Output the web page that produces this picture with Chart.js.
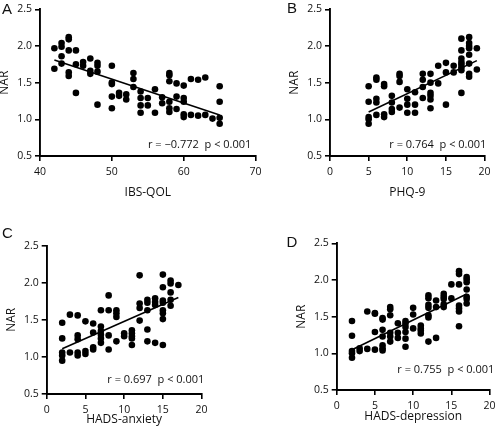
<!DOCTYPE html>
<html>
<head>
<meta charset="utf-8">
<script src="https://cdn.jsdelivr.net/npm/chart.js@4.4.1/dist/chart.umd.min.js"></script>
<style>
  html, body { margin: 0; padding: 0; background: #fff; }
  #wrap { position: relative; width: 500px; height: 437px; overflow: hidden; }
  canvas { position: absolute; }
</style>
</head>
<body>
<div id="wrap">
  <canvas id="chartA" width="266" height="202" style="left:0px;top:0px"></canvas>
  <canvas id="chartB" width="215" height="202" style="left:280px;top:0px"></canvas>
  <canvas id="chartC" width="212" height="206" style="left:0px;top:222px"></canvas>
  <canvas id="chartD" width="220" height="204" style="left:280px;top:222px"></canvas>
</div>
<script>
// NAR values, grouped by the x score they sit on
const ibsQolX = [42, 43, 44, 45, 46, 47, 48, 50, 51, 52, 53, 54, 55, 56, 57, 58, 59, 60, 61, 62, 63, 64, 65];
const ibsQolNar = [
  [1.97, 1.69], [2.04, 1.99, 1.86, 1.76], [2.12, 2.09, 1.94, 1.64, 1.59], [1.94, 1.75, 1.36],
  [1.78, 1.73], [1.83, 1.66, 1.62], [1.77, 1.73, 1.65, 1.20], [1.73, 1.50, 1.48, 1.31, 1.15],
  [1.36, 1.32], [1.34, 1.27], [1.63, 1.55, 1.44], [1.38, 1.29, 1.19, 1.09], [1.29, 1.19],
  [1.41, 1.09], [1.30, 1.22], [1.63, 1.60, 1.52, 1.24, 1.15, 1.10], [1.49, 1.31, 1.14],
  [1.46, 1.29, 1.24, 1.07, 1.03], [1.55, 1.06], [1.54, 1.05], [1.57, 1.06], [1.01],
  [1.45, 1.24, 1.02, 0.94]
];
const ibsQolFitX = [42, 65];
const ibsQolFitY = [1.81, 1.06];

const phq9X = [5, 6, 7, 8, 9, 10, 11, 12, 13, 14, 15, 16, 17, 18, 19];
const phq9Nar = [
  [1.45, 1.24, 1.03, 1.00, 0.94], [1.57, 1.54, 1.28, 1.23, 1.06], [1.48, 1.45, 1.07, 1.03],
  [1.32, 1.23, 1.14, 1.10], [1.62, 1.59, 1.51, 1.16], [1.41, 1.28, 1.20, 1.09], [1.37, 1.20, 1.09],
  [1.62, 1.54, 1.44, 1.29], [1.62, 1.50, 1.36, 1.32, 1.27, 1.15], [1.73, 1.49], [1.77, 1.64, 1.20],
  [1.73, 1.64], [2.10, 1.94, 1.83, 1.78, 1.75, 1.71, 1.67, 1.36],
  [2.12, 2.04, 2.00, 1.97, 1.88, 1.76, 1.62, 1.58], [1.97, 1.68]
];
const phq9FitX = [5, 19];
const phq9FitY = [1.10, 1.80];

const anxietyX = [2, 3, 4, 5, 6, 7, 8, 9, 10, 11, 12, 13, 14, 15, 16, 17];
const anxietyNar = [
  [1.46, 1.25, 1.06, 1.02, 0.95], [1.57, 1.06], [1.56, 1.29, 1.24, 1.06, 1.02], [1.48, 1.08, 1.04],
  [1.45, 1.33, 1.13, 1.10], [1.63, 1.41, 1.35, 1.30, 1.25, 1.19], [1.83, 1.63, 1.29, 1.10],
  [1.63, 1.59, 1.54, 1.21], [1.32, 1.28], [1.36, 1.32, 1.28, 1.25, 1.16], [2.10, 1.72, 1.66, 1.49],
  [1.77, 1.73, 1.63, 1.37, 1.21], [1.79, 1.74, 1.70, 1.19],
  [2.11, 1.94, 1.76, 1.73, 1.63, 1.59, 1.51, 1.16], [2.03, 1.99, 1.87, 1.77, 1.69], [1.97]
];
const anxietyFitX = [2, 17];
const anxietyFitY = [1.11, 1.80];

const depressionX = [2, 3, 4, 5, 6, 7, 8, 9, 10, 11, 12, 13, 14, 15, 16, 17];
const depressionNar = [
  [1.44, 1.24, 1.03, 1.00, 0.94], [1.07, 1.03], [1.57, 1.06], [1.55, 1.54, 1.29, 1.05],
  [1.48, 1.46, 1.32, 1.23, 1.11, 1.07, 1.04], [1.63, 1.60, 1.52, 1.28, 1.23, 1.16],
  [1.41, 1.28, 1.21], [1.44, 1.41, 1.36, 1.29, 1.20, 1.09], [1.62, 1.53, 1.34],
  [1.38, 1.34, 1.31, 1.27], [1.79, 1.75, 1.66, 1.62, 1.52, 1.49, 1.16], [1.72, 1.63, 1.21],
  [1.81, 1.77, 1.74, 1.67, 1.63], [1.94, 1.75], [2.12, 2.08, 1.94, 1.65, 1.61, 1.57, 1.37],
  [2.04, 2.01, 1.97, 1.87, 1.77, 1.74, 1.68]
];
const depressionFitX = [2, 17];
const depressionFitY = [1.05, 1.81];

const narTicks = [0.5, 1.0, 1.5, 2.0, 2.5];
const ibsQolTicks = [40, 50, 60, 70];
const scoreTicks = [0, 5, 10, 15, 20];

const FONT = "'Open Sans', 'DejaVu Sans', sans-serif";

const panelText = {
  id: 'panelText',
  afterDraw(chart, args, o) {
    const ctx = chart.ctx;
    const area = chart.chartArea;
    ctx.save();
    ctx.fillStyle = '#111';
    ctx.textAlign = 'left';
    ctx.textBaseline = 'alphabetic';
    ctx.font = "15px 'Liberation Sans', Arial, sans-serif";
    ctx.fillText(o.letter, o.letterX, o.letterY);
    ctx.font = '11px ' + FONT;
    ctx.fillText(o.stat, area.left + o.statDx, area.bottom - o.statDy);
    ctx.restore();
  }
};

function makePanel(id, p) {
  const points = p.xs.flatMap((x, i) => p.nar[i].map(y => ({ x: x, y: y })));
  const fit = p.fitX.map((x, i) => ({ x: x, y: p.fitY[i] }));
  new Chart(document.getElementById(id), {
    type: 'scatter',
    data: {
      datasets: [
        { data: points, backgroundColor: '#000', borderWidth: 0, pointRadius: 3.3 },
        { data: fit, showLine: true, borderColor: '#000', borderWidth: 1.6, pointRadius: 0 }
      ]
    },
    options: {
      responsive: false,
      animation: false,
      events: [],
      layout: { padding: { left: 0, top: p.padTop, right: p.padRight, bottom: 0 } },
      plugins: {
        legend: { display: false },
        tooltip: { enabled: false },
        panelText: { letter: p.letter, letterX: p.letterX, letterY: p.letterY, stat: p.stat, statDx: p.statDx, statDy: p.statDy }
      },
      scales: {
        x: {
          type: 'linear',
          min: p.xTicks[0],
          max: p.xTicks[p.xTicks.length - 1],
          afterBuildTicks: s => { s.ticks = p.xTicks.map(v => ({ value: v })); },
          afterFit: s => { s.height = p.xHeight; },
          grid: { drawOnChartArea: false, drawTicks: true, tickLength: 5, color: '#000', lineWidth: 1.6 },
          border: { color: '#000', width: 1.9 },
          ticks: { color: '#111', font: { family: FONT, size: 10.5 }, padding: 4.4, maxRotation: 0, autoSkip: false, callback: v => String(v) },
          title: { display: true, text: p.xTitle, color: '#111', font: { family: FONT, size: 12 }, padding: { top: 0, bottom: p.xTitlePad } }
        },
        y: {
          type: 'linear',
          min: 0.5,
          max: 2.5,
          afterBuildTicks: s => { s.ticks = narTicks.map(v => ({ value: v })); },
          afterFit: s => { s.width = p.yWidth; },
          grid: { drawOnChartArea: false, drawTicks: true, tickLength: 5, color: '#000', lineWidth: 1.6 },
          border: { color: '#000', width: 1.9 },
          ticks: { color: '#111', font: { family: FONT, size: 10.5 }, padding: 3, autoSkip: false, callback: v => v.toFixed(1) },
          title: { display: true, text: 'NAR', color: '#111', font: { family: FONT, size: 12 }, padding: { top: p.yTitlePad, bottom: 0 } }
        }
      }
    },
    plugins: [panelText]
  });
}

makePanel('chartA', {
  xs: ibsQolX, nar: ibsQolNar, fitX: ibsQolFitX, fitY: ibsQolFitY, xTicks: ibsQolTicks,
  xTitle: 'IBS-QOL', letter: 'A', letterX: 2, letterY: 13.5,
  stat: 'r = \u22120.772  p < 0.001', statDx: 108, statDy: 7.7,
  padTop: 9, padRight: 9.5, xHeight: 46, yWidth: 40, xTitlePad: 2.1, yTitlePad: -2.5
});
makePanel('chartB', {
  xs: phq9X, nar: phq9Nar, fitX: phq9FitX, fitY: phq9FitY, xTicks: scoreTicks,
  xTitle: 'PHQ-9', letter: 'B', letterX: 7, letterY: 12.5,
  stat: 'r = 0.764  p < 0.001', statDx: 59.3, statDy: 7.7,
  padTop: 9, padRight: 9.3, xHeight: 46, yWidth: 50, xTitlePad: 2.1, yTitlePad: 7.5
});
makePanel('chartC', {
  xs: anxietyX, nar: anxietyNar, fitX: anxietyFitX, fitY: anxietyFitY, xTicks: scoreTicks,
  xTitle: 'HADS-anxiety', letter: 'C', letterX: 2, letterY: 15.8,
  stat: 'r = 0.697  p < 0.001', statDx: 60.6, statDy: 11,
  padTop: 23.7, padRight: 10, xHeight: 34, yWidth: 46.7, xTitlePad: 1.5, yTitlePad: 4.8
});
makePanel('chartD', {
  xs: depressionX, nar: depressionNar, fitX: depressionFitX, fitY: depressionFitY, xTicks: scoreTicks,
  xTitle: 'HADS-depression', letter: 'D', letterX: 6.5, letterY: 24.7,
  stat: 'r = 0.755  p < 0.001', statDx: 60.6, statDy: 17,
  padTop: 21.3, padRight: 7.7, xHeight: 36, yWidth: 56.7, xTitlePad: 1.8, yTitlePad: 14.1
});
</script>
</body>
</html>
